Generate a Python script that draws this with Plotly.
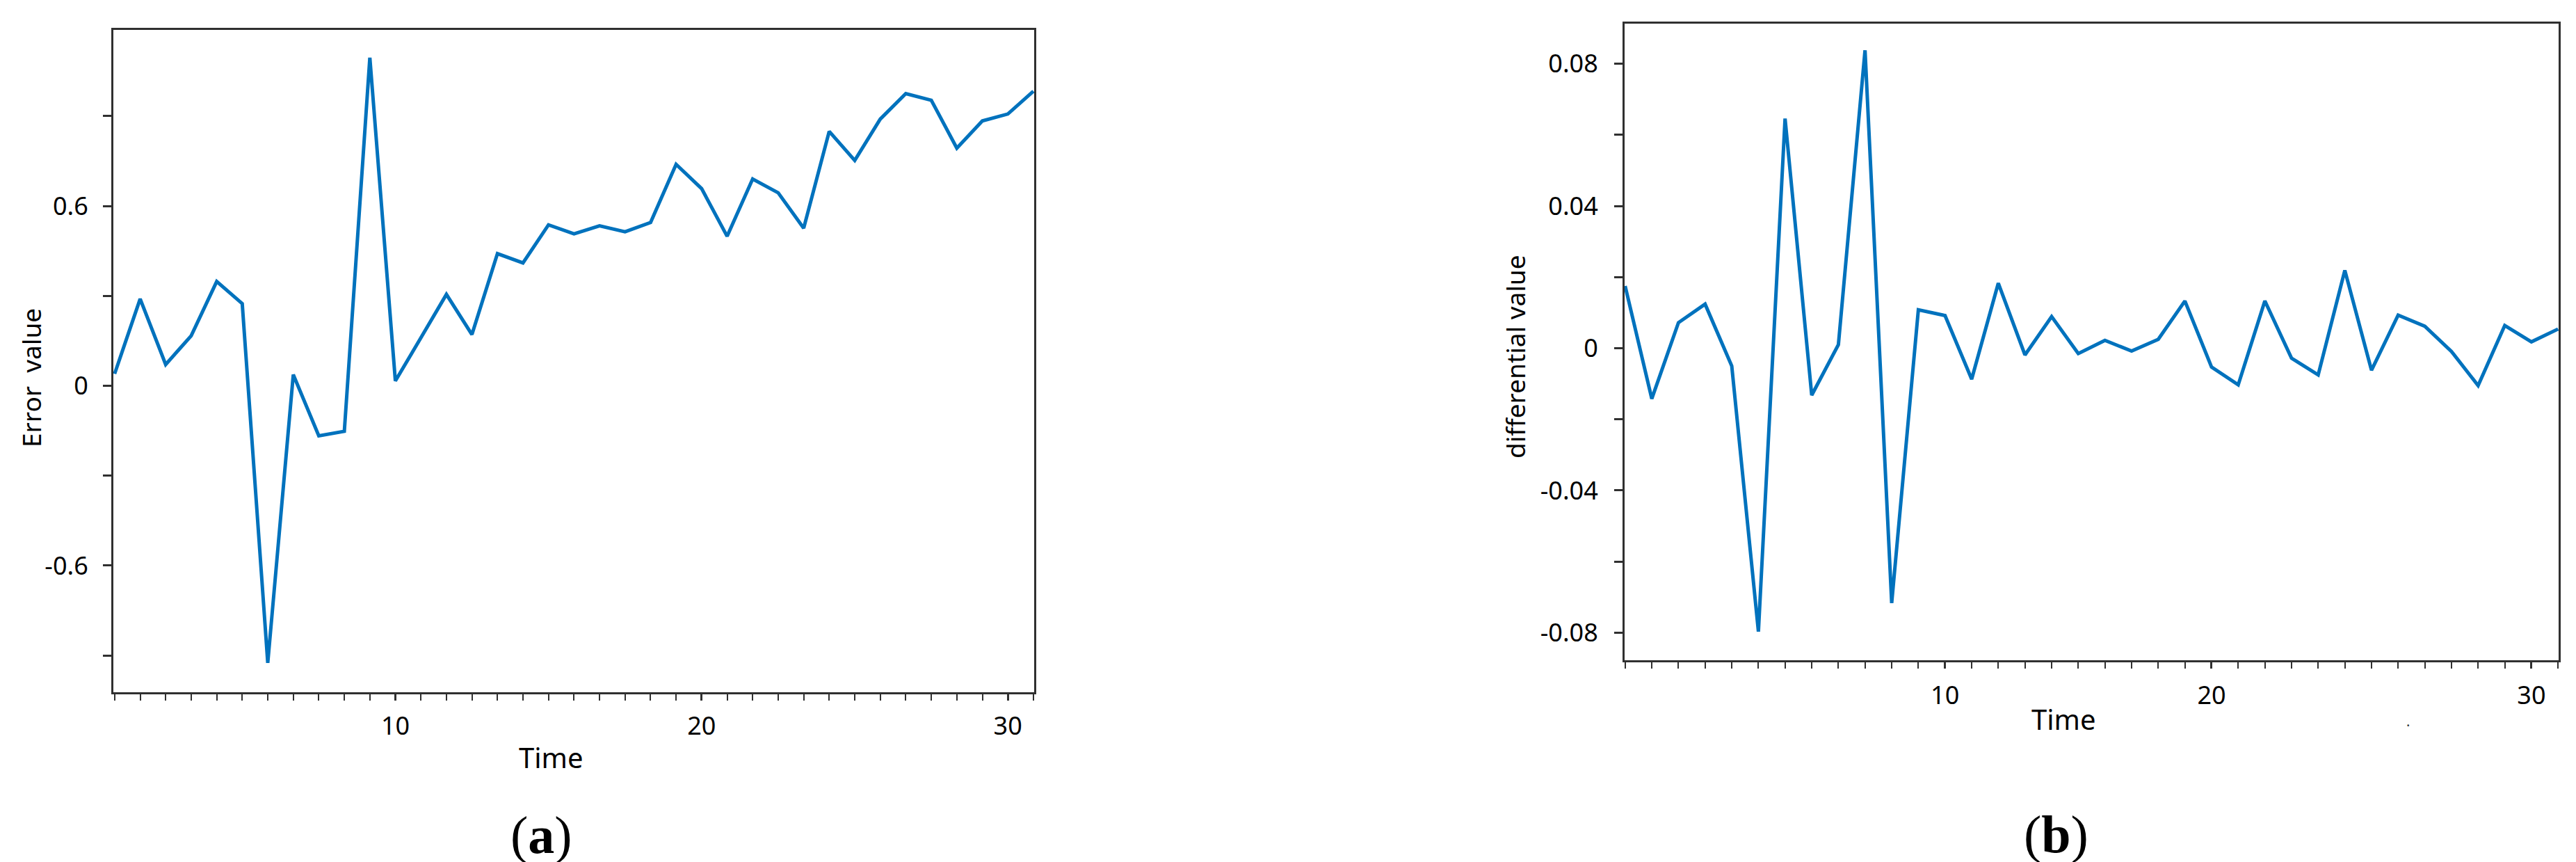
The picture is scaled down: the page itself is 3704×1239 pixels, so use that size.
import plotly.graph_objects as go

# ---------------- data ----------------
# Panel (a): error value per sample
error_value = [0.04, 0.29, 0.071, 0.167, 0.348, 0.274, -0.925, 0.037, -0.167, -0.152,
               1.095, 0.016, 0.16, 0.305, 0.171, 0.441, 0.41, 0.537, 0.507, 0.534,
               0.514, 0.545, 0.739, 0.658, 0.499, 0.69, 0.644, 0.526, 0.849, 0.752,
               0.89, 0.975, 0.953, 0.793, 0.884, 0.907, 0.983]
sample_a = list(range(len(error_value)))

# Panel (b): differential value per sample
differential_value = [0.0175, -0.0142, 0.0072, 0.0124, -0.005, -0.0797, 0.0646, -0.0132,
                      0.001, 0.0838, -0.0717, 0.0108, 0.0092, -0.0087, 0.0183, -0.0019,
                      0.0089, -0.0015, 0.0022, -0.0008, 0.0025, 0.0133, -0.0053, -0.0103,
                      0.0133, -0.0028, -0.0075, 0.0219, -0.0062, 0.0093, 0.0062, -0.0009,
                      -0.0105, 0.0064, 0.0018, 0.0054]
sample_b = list(range(len(differential_value)))

# Time tick labels (as placed on the sample axis in the reference)
time_ticktext = ["10", "20", "30"]
time_tickpos_a = [11, 23, 35]
time_tickpos_b = [12, 22, 34]

# ---------------- styling ----------------
W, H = 3704, 1239
LINE_BLUE = "#0072BD"
AXIS_COL = "#303030"
FONT = "Noto Sans"
TICK_FONT = dict(family=FONT, size=36, color="#000000")


def px_x(p):
    return p / W


def px_y(p):
    return 1 - p / H


fig = go.Figure()

fig.add_trace(go.Scatter(x=sample_a, y=error_value, mode="lines",
                         line=dict(color=LINE_BLUE, width=5),
                         xaxis="x", yaxis="y", showlegend=False))
fig.add_trace(go.Scatter(x=sample_b, y=differential_value, mode="lines",
                         line=dict(color=LINE_BLUE, width=5),
                         xaxis="x2", yaxis="y2", showlegend=False))

common_axis = dict(showgrid=False, zeroline=False, showline=True, linecolor=AXIS_COL,
                   linewidth=3, mirror=True, ticks="outside", tickcolor=AXIS_COL,
                   tickwidth=3, tickfont=TICK_FONT)

fig.update_layout(
    width=W, height=H,
    margin=dict(l=0, r=0, t=0, b=0),
    paper_bgcolor="white", plot_bgcolor="white",
    xaxis=dict(common_axis, domain=[px_x(155), px_x(1479)], range=[-0.05, 36.03],
               tickmode="array", tickvals=time_tickpos_a, ticktext=time_ticktext,
               ticklen=9, ticklabelstandoff=6,
               minor=dict(dtick=1, tick0=0, ticklen=9, tickcolor=AXIS_COL, tickwidth=2,
                          ticks="outside", showgrid=False),
               anchor="y"),
    yaxis=dict(common_axis, domain=[px_y(987), px_y(35)], range=[-1.0228, 1.1876],
               tickmode="array", tickvals=[-0.6, 0, 0.6], ticktext=["-0.6", "0", "0.6"],
               ticklen=12, ticklabelstandoff=14,
               minor=dict(tickvals=[-0.9, -0.3, 0.3, 0.9], ticklen=12, tickcolor=AXIS_COL,
                          tickwidth=3, ticks="outside", showgrid=False),
               anchor="x"),
    xaxis2=dict(common_axis, domain=[px_x(2328), px_x(3671)], range=[-0.02, 35.02],
                tickmode="array", tickvals=time_tickpos_b, ticktext=time_ticktext,
                ticklen=9, ticklabelstandoff=8,
                minor=dict(dtick=1, tick0=0, ticklen=9, tickcolor=AXIS_COL, tickwidth=2,
                           ticks="outside", showgrid=False),
                anchor="y2"),
    yaxis2=dict(common_axis, domain=[px_y(941), px_y(26)], range=[-0.08777, 0.0913],
                tickmode="array", tickvals=[-0.08, -0.04, 0, 0.04, 0.08],
                ticktext=["-0.08", "-0.04", "0", "0.04", "0.08"],
                ticklen=12, ticklabelstandoff=16,
                minor=dict(tickvals=[-0.06, -0.02, 0.02, 0.06], ticklen=12,
                           tickcolor=AXIS_COL, tickwidth=3, ticks="outside", showgrid=False),
                anchor="x2"),
)

label_font = dict(family=FONT, size=37, color="#000000")
annotations = [
    dict(text="Error\u00a0\u00a0value", x=px_x(36), y=px_y(535), textangle=-90,
         font=label_font),
    dict(text="differential value", x=px_x(2170), y=px_y(505), textangle=-90,
         font=label_font),
    dict(text="Time", x=px_x(784), y=px_y(1080), font=dict(family=FONT, size=40, color="#000")),
    dict(text="Time", x=px_x(2959), y=px_y(1025), font=dict(family=FONT, size=40, color="#000")),
    dict(text=".", x=px_x(3454), y=px_y(1028), font=dict(family=FONT, size=20, color="#333")),
    dict(text="(<b>a</b>)", x=px_x(770), y=px_y(1192),
         font=dict(family="Liberation Serif", size=76, color="#000")),
    dict(text="(<b>b</b>)", x=px_x(2948), y=px_y(1191),
         font=dict(family="Liberation Serif", size=76, color="#000")),
]
for a in annotations:
    a.update(xref="paper", yref="paper", showarrow=False, xanchor="center", yanchor="middle")
fig.update_layout(annotations=annotations)

fig.write_html("out.html")
